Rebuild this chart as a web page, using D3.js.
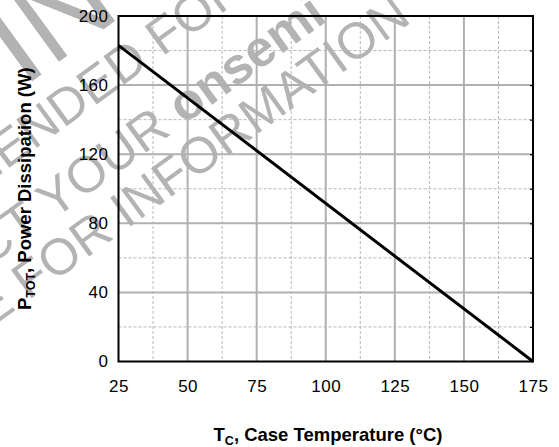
<!DOCTYPE html>
<html>
<head>
<meta charset="utf-8">
<script src="https://cdn.jsdelivr.net/npm/d3@7"></script>
<style>
  html, body { margin: 0; padding: 0; background: #fff; }
  svg { display: block; }
  text { font-family: "Liberation Sans", Arial, Helvetica, sans-serif; }
</style>
</head>
<body>
<script>
// ---- data ----
const temperatures = [25, 175];          // T_C (°C)
const powerValues  = [183, 0];           // P_TOT (W)
const xTickValues  = [25, 50, 75, 100, 125, 150, 175];
const yTickValues  = [0, 40, 80, 120, 160, 200];
const xMinorValues = [37.5, 62.5, 87.5, 112.5, 137.5, 162.5];
const yMinorValues = [20, 60, 100, 140, 180];
const watermarkLines = [
  { pre: "NOT RECOMMENDED", main: "FOR NEW DESIGN", bold: false },
  { pre: "CONTACT YOUR", main: "onsemi", bold: true },
  { pre: "REPRESENTATIVE FOR", main: "INFORMATION", bold: false }
];
const watermarkBig = "IN";

const W = 559, H = 447;
const plot = { left: 118.5, right: 533, top: 16, bottom: 361.5 };

const svg = d3.select("body").append("svg")
  .attr("width", W).attr("height", H);

// ---- watermark (behind everything) ----
const wmColor = "#b3b3b3";
const wmAngle = -36;
const wmSize = 51;
const wmAnchors = [[162, 57], [184, 125], [127, 229]];
const wm = svg.append("g").attr("class", "watermark");
wm.append("text")
  .attr("transform", "translate(23,88) rotate(" + wmAngle + ")")
  .attr("font-size", 124).attr("fill", wmColor)
  .text(watermarkBig);
watermarkLines.forEach((ln, i) => {
  const g = wm.append("g")
    .attr("transform", "translate(" + wmAnchors[i][0] + "," + wmAnchors[i][1] + ") rotate(" + wmAngle + ")");
  g.append("text").attr("x", -wmSize * 0.28).attr("text-anchor", "end")
    .attr("font-size", wmSize).attr("fill", wmColor).text(ln.pre);
  g.append("text").attr("x", 0).attr("text-anchor", "start")
    .attr("font-size", wmSize).attr("fill", wmColor)
    .attr("font-weight", ln.bold ? "bold" : "normal")
    .text(ln.main);
});

// ---- scales ----
const x = d3.scaleLinear().domain([25, 175]).range([plot.left, plot.right]);
const y = d3.scaleLinear().domain([0, 200]).range([plot.bottom, plot.top]);

// ---- grid ----
const grid = svg.append("g");
grid.selectAll(".vminor").data(xMinorValues).join("line")
  .attr("x1", d => x(d)).attr("x2", d => x(d))
  .attr("y1", plot.top).attr("y2", plot.bottom)
  .attr("stroke", "#b8b8b8").attr("stroke-width", 1).attr("stroke-dasharray", "3,2");
grid.selectAll(".hminor").data(yMinorValues).join("line")
  .attr("y1", d => y(d)).attr("y2", d => y(d))
  .attr("x1", plot.left).attr("x2", plot.right)
  .attr("stroke", "#b8b8b8").attr("stroke-width", 1).attr("stroke-dasharray", "3,2");
grid.selectAll(".vmajor").data(xTickValues.slice(1, -1)).join("line")
  .attr("x1", d => x(d)).attr("x2", d => x(d))
  .attr("y1", plot.top).attr("y2", plot.bottom)
  .attr("stroke", "#b0b0b0").attr("stroke-width", 2);
grid.selectAll(".hmajor").data(yTickValues.slice(1, -1)).join("line")
  .attr("y1", d => y(d)).attr("y2", d => y(d))
  .attr("x1", plot.left).attr("x2", plot.right)
  .attr("stroke", "#b0b0b0").attr("stroke-width", 2);

// right-side small ticks
svg.append("g").attr("transform", "translate(" + plot.right + ",0)")
  .call(d3.axisRight(y).tickValues(yMinorValues.concat(yTickValues.slice(1, -1))).tickSize(-3).tickFormat(""))
  .call(g => g.select(".domain").remove())
  .call(g => g.selectAll("line").attr("stroke", "#000").attr("stroke-width", 1.2));

// ---- data line ----
const pts = temperatures.map((t, i) => [t, powerValues[i]]);
svg.append("path").datum(pts)
  .attr("d", d3.line().x(d => x(d[0])).y(d => y(d[1])))
  .attr("fill", "none").attr("stroke", "#000").attr("stroke-width", 3);

// ---- frame ----
svg.append("rect")
  .attr("x", plot.left).attr("y", plot.top)
  .attr("width", plot.right - plot.left).attr("height", plot.bottom - plot.top)
  .attr("fill", "none").attr("stroke", "#000").attr("stroke-width", 2);

// ---- axes ----
const xAxis = svg.append("g").attr("transform", "translate(0," + plot.bottom + ")")
  .call(d3.axisBottom(x).tickValues(xTickValues).tickSize(0).tickPadding(18));
xAxis.select(".domain").remove();
xAxis.selectAll("text").attr("font-size", 17).attr("letter-spacing", 0.5).attr("fill", "#000")
  .attr("font-family", "'Liberation Sans', Arial, sans-serif");

const yAxis = svg.append("g").attr("transform", "translate(" + plot.left + ",0)")
  .call(d3.axisLeft(y).tickValues(yTickValues).tickSize(0).tickPadding(10));
yAxis.select(".domain").remove();
yAxis.selectAll("text").attr("font-size", 17).attr("letter-spacing", 0.5).attr("fill", "#000")
  .attr("font-family", "'Liberation Sans', Arial, sans-serif");

// ---- axis titles ----
const xt = svg.append("text")
  .attr("x", 328).attr("y", 441)
  .attr("text-anchor", "middle").attr("font-size", 18.5).attr("font-weight", "bold");
xt.append("tspan").text("T");
xt.append("tspan").attr("font-size", 12.5).attr("dy", 4).text("C");
xt.append("tspan").attr("dy", -4).text(", Case Temperature (°C)");

const yt = svg.append("text")
  .attr("transform", "translate(31," + ((plot.top + plot.bottom) / 2) + ") rotate(-90)")
  .attr("text-anchor", "middle").attr("font-size", 18.5).attr("font-weight", "bold");
yt.append("tspan").text("P");
yt.append("tspan").attr("font-size", 12.5).attr("dy", 4).text("TOT");
yt.append("tspan").attr("dy", -4).text(", Power Dissipation (W)");
</script>
</body>
</html>
